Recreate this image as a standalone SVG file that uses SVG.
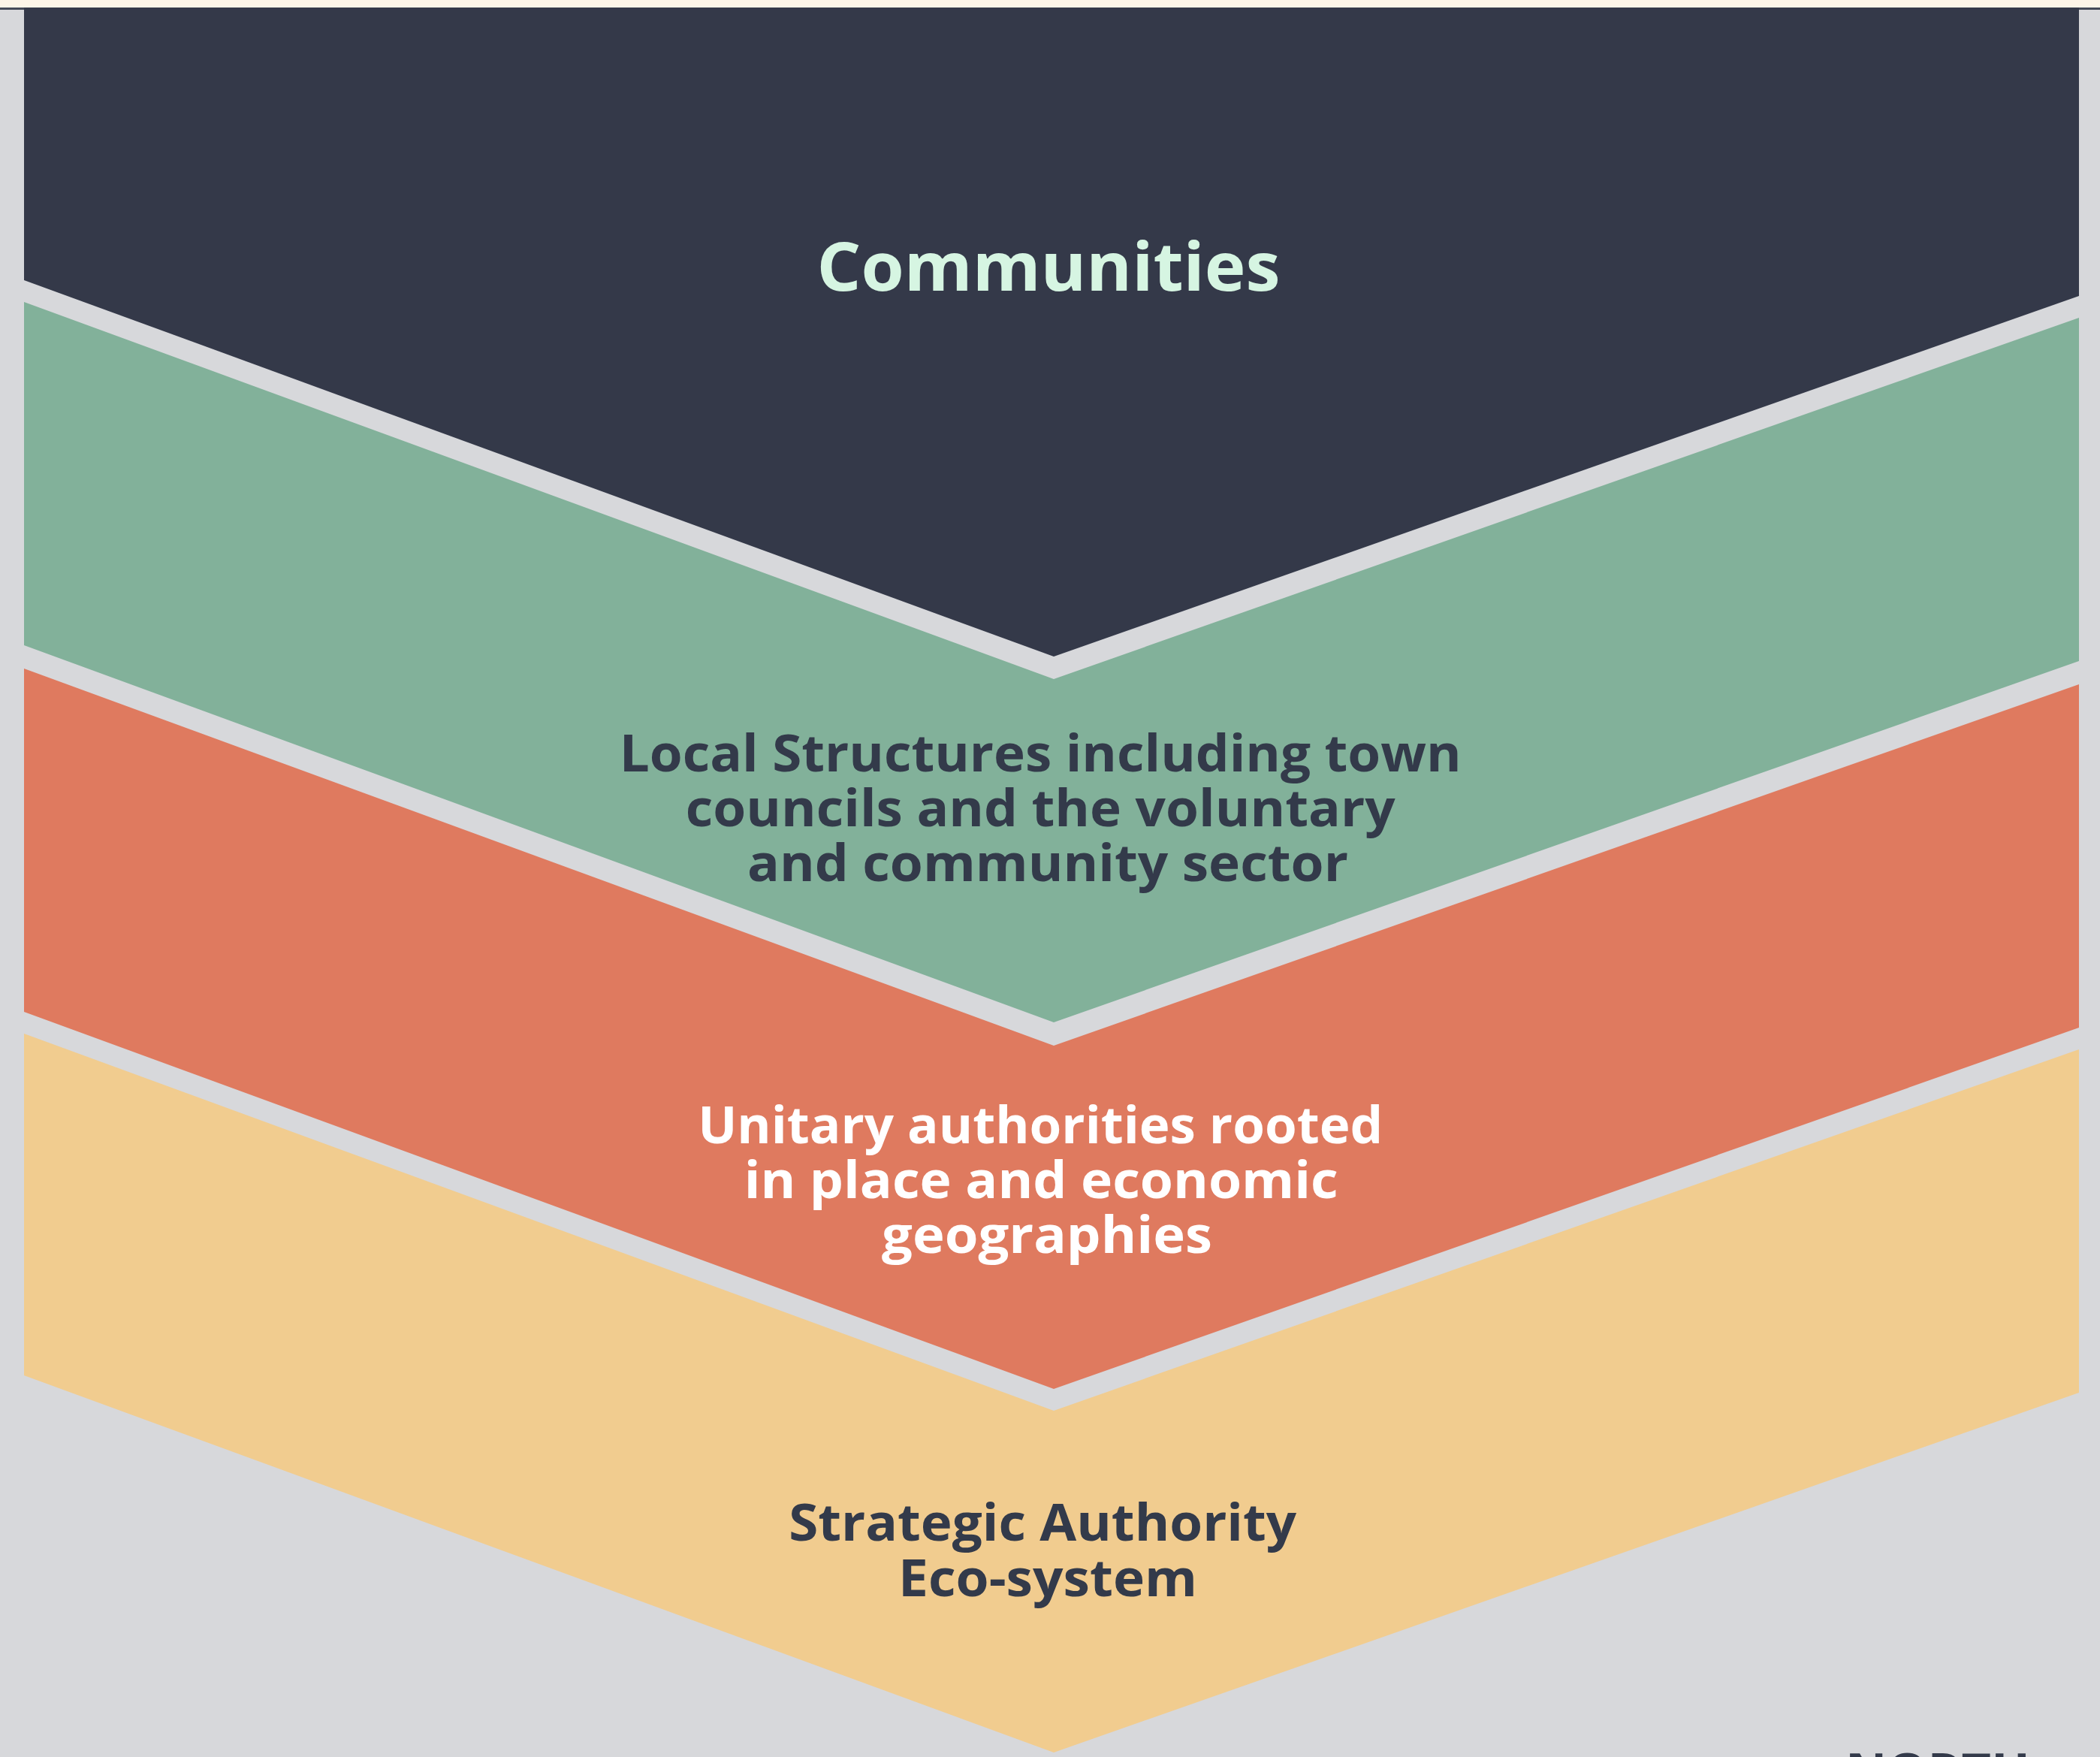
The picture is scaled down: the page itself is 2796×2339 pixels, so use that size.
<svg xmlns="http://www.w3.org/2000/svg" width="2796" height="2339" viewBox="0 0 2796 2339">
  <style>
    .lbl { font-family: "Open Sans", "Noto Sans", "Liberation Sans", sans-serif; font-weight: 700; text-anchor: middle; }
    .dark { fill: #333a4a; }
    .light { fill: #ffffff; }
    .mint { fill: #d6f5e2; }
  </style>

  <!-- page background -->
  <rect x="0" y="0" width="2796" height="2339" fill="#d7d8db"/>
  <rect x="0" y="0" width="2796" height="10" fill="#fdf5e8"/>
  <rect x="0" y="10" width="2796" height="3" fill="#454a58"/>

  <!-- Communities chevron -->
  <g id="communities">
    <polygon points="32,10 2768,10 2768,394 1403,874 32,373" fill="#343949"/>
    <text class="lbl mint" x="1396" y="387" font-size="90" textLength="617" lengthAdjust="spacingAndGlyphs">Communities</text>
  </g>

  <!-- Local structures chevron -->
  <g id="local-structures">
    <polygon points="32,402 1403,904 2768,423 2768,880 1403,1361 32,859" fill="#82b19a"/>
    <text class="lbl dark" font-size="68">
      <tspan x="1394" y="1027" textLength="1121" lengthAdjust="spacingAndGlyphs">Local Structures including town</tspan>
      <tspan x="1394" y="1100" textLength="945" lengthAdjust="spacingAndGlyphs">councils and the voluntary</tspan>
      <tspan x="1395" y="1173" textLength="800" lengthAdjust="spacingAndGlyphs">and community sector</tspan>
    </text>
  </g>

  <!-- Unitary authorities chevron -->
  <g id="unitary-authorities">
    <polygon points="32,890 1403,1392 2768,911 2768,1368 1403,1849 32,1347" fill="#df7a5f"/>
    <text class="lbl light" font-size="68">
      <tspan x="1394" y="1522" textLength="912" lengthAdjust="spacingAndGlyphs">Unitary authorities rooted</tspan>
      <tspan x="1395" y="1595" textLength="791" lengthAdjust="spacingAndGlyphs">in place and economic</tspan>
      <tspan x="1394" y="1668" textLength="440" lengthAdjust="spacingAndGlyphs">geographies</tspan>
    </text>
  </g>

  <!-- Strategic authority chevron -->
  <g id="strategic-authority">
    <polygon points="32,1376 1403,1878 2768,1397 2768,1854 1403,2333 32,1831" fill="#f1cc8f"/>
    <text class="lbl dark" font-size="68">
      <tspan x="1397" y="2051" textLength="676" lengthAdjust="spacingAndGlyphs">Strategic Authority</tspan>
      <tspan x="1395" y="2125" textLength="398" lengthAdjust="spacingAndGlyphs">Eco-system</tspan>
    </text>
  </g>

  <!-- footer wordmark, mostly below the bottom edge -->
  <g id="footer">
    <text class="lbl dark" x="2580" y="2383" font-size="68" textLength="246" lengthAdjust="spacingAndGlyphs">NORTH</text>
  </g>

  <g id="connectors"/>
</svg>
